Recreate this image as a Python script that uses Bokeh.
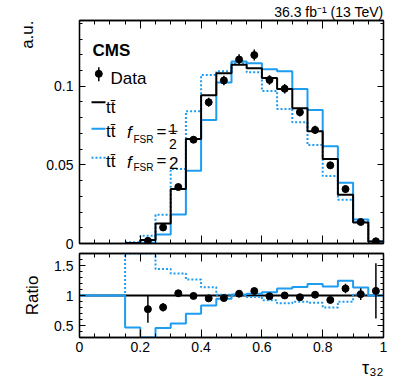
import numpy as np
from bokeh.plotting import figure
from bokeh.layouts import column
from bokeh.models import FixedTicker, LinearAxis, Label, Range1d, CustomJSTickFormatter, Title
from bokeh.embed import file_html
from bokeh.resources import INLINE

# ---------------- data ----------------
bin_edges = [0.00, 0.05, 0.10, 0.15, 0.20, 0.25, 0.30, 0.35, 0.40, 0.45, 0.50,
             0.55, 0.60, 0.65, 0.70, 0.75, 0.80, 0.85, 0.90, 0.95, 1.00]
ttbar_nominal = [0, 0, 0, 0.0003, 0.0022, 0.0127, 0.0346, 0.0665, 0.0943, 0.1083,
                 0.1136, 0.1115, 0.1053, 0.0983, 0.0860, 0.0713, 0.0537, 0.0310, 0.0134, 0.0013]
ttbar_fsr_half = [0, 0, 0, 0.00014, 0.0004, 0.0058, 0.0185, 0.0463, 0.0786, 0.1023,
                  0.1157, 0.1146, 0.1108, 0.1096, 0.0983, 0.0849, 0.0618, 0.0386, 0.0152, 0.0013]
ttbar_fsr_two = [0, 0, 0, 0.0008, 0.0049, 0.0183, 0.0473, 0.0841, 0.1072, 0.1096,
                 0.1146, 0.1089, 0.0970, 0.0856, 0.0771, 0.0626, 0.0429, 0.0278, 0.0136, 0.0013]
data_x = [0.225, 0.275, 0.325, 0.375, 0.425, 0.475, 0.525, 0.575,
          0.625, 0.675, 0.725, 0.775, 0.825, 0.875, 0.925, 0.975]
data_y = [0.0017, 0.0102, 0.0359, 0.0660, 0.0898, 0.1037, 0.1170, 0.1198,
          0.1040, 0.0984, 0.0835, 0.0722, 0.0497, 0.0346, 0.0137, 0.0014]
data_err = [0.0005, 0.0009, 0.0012, 0.0020, 0.0028, 0.0030, 0.0033, 0.0035,
            0.0030, 0.0030, 0.0028, 0.0026, 0.0023, 0.0025, 0.0013, 0.0006]

x_major = [0.0, 0.2, 0.4, 0.6, 0.8, 1.0]
x_minor = bin_edges
main_y_major = [0.0, 0.05, 0.1]
main_y_minor = [0.0, 0.01, 0.02, 0.03, 0.04, 0.05, 0.06, 0.07, 0.08, 0.09, 0.10,
                0.11, 0.12, 0.13, 0.14]
ratio_y_major = [0.5, 1.0, 1.5]
ratio_y_minor = [0.3, 0.4, 0.5, 0.6, 0.7, 0.8, 0.9, 1.0, 1.1, 1.2, 1.3, 1.4, 1.5, 1.6, 1.7]

# ---------------- style / layout ----------------
FONT = "Liberation Sans"
BLUE = "#1e9cf0"
FRAME_L, FRAME_W, FRAME_R = 79, 304, 23
MAIN_TOP, MAIN_H, MAIN_BOT = 20, 223, 8
RAT_TOP, RAT_H, RAT_BOT = 2, 84, 45
MAIN_YMAX = 0.1418
RATIO_LO, RATIO_HI = 0.3, 1.7

ABS_L = FRAME_L
ABS_MAIN_T = MAIN_TOP
ABS_MAIN_B = ABS_MAIN_T + MAIN_H


def mx(px):
    return (px - ABS_L) / FRAME_W


def my(py):
    return MAIN_YMAX * (ABS_MAIN_B - py) / MAIN_H


def steps(edges, vals, start=0):
    xs, ys = [], []
    for i in range(start, len(vals)):
        xs += [edges[i], edges[i + 1]]
        ys += [vals[i], vals[i]]
    return xs, ys


fmt = CustomJSTickFormatter(code="return String(parseFloat(tick.toFixed(3)));")
blank = CustomJSTickFormatter(code="return '';")


def style_axis(ax, major, minor, maj_len, min_len, labels):
    ax.ticker = FixedTicker(ticks=major, minor_ticks=minor)
    ax.major_tick_in = maj_len
    ax.major_tick_out = 0
    ax.minor_tick_in = min_len
    ax.minor_tick_out = 0
    ax.major_tick_line_color = "black"
    ax.minor_tick_line_color = "black"
    ax.major_tick_line_width = 1
    ax.minor_tick_line_width = 1
    ax.axis_line_color = "black"
    ax.axis_line_width = 1.3
    if labels:
        ax.formatter = fmt
        ax.major_label_text_font = FONT
        ax.major_label_text_font_size = "14px"
        ax.major_label_text_color = "black"
    else:
        ax.formatter = blank
        ax.major_label_text_font_size = "1px"
        ax.major_label_standoff = 0


def make_fig(h_top, h_frame, h_bot, yr):
    f = figure(frame_width=FRAME_W, frame_height=h_frame,
               min_border_left=FRAME_L, min_border_right=FRAME_R,
               min_border_top=h_top, min_border_bottom=h_bot,
               x_range=Range1d(0, 1), y_range=yr,
               output_backend="svg", toolbar_location=None)
    f.xgrid.grid_line_color = None
    f.ygrid.grid_line_color = None
    f.outline_line_color = "black"
    f.outline_line_width = 1.3
    f.background_fill_color = "white"
    f.border_fill_color = "white"
    return f


def title(text, size, align, standoff, offset=0):
    t = Title(text=text, align=align, text_font=FONT, text_font_size=f"{size}px",
              text_font_style="normal", text_color="black", offset=offset)
    t.standoff = standoff
    return t


def lbl(fig, x, y, text, size, align="left", baseline="alphabetic", style="normal"):
    fig.add_layout(Label(x=x, y=y, text=text, text_font=FONT,
                         text_font_size=f"{size}px", text_align=align,
                         text_baseline=baseline, text_font_style=style,
                         text_color="black"))


# ---------------- main panel ----------------
p = make_fig(MAIN_TOP, MAIN_H, MAIN_BOT, Range1d(0, MAIN_YMAX))
p.add_layout(LinearAxis(), "above")
p.add_layout(LinearAxis(), "right")
style_axis(p.below[0], x_major, x_minor, 8, 4, False)
style_axis(p.above[0], x_major, x_minor, 8, 4, False)
style_axis(p.left[0], main_y_major, main_y_minor, 6, 3, True)
p.left[0].major_label_standoff = 6
style_axis(p.right[0], main_y_major, main_y_minor, 6, 3, False)
p.add_layout(title("36.3 fb\u207b\u00b9 (13 TeV)", 14, "right", 1, 0), "above")
p.add_layout(title("a.u.", 17, "right", 14), "left")

first = next(i for i, v in enumerate(ttbar_nominal) if v > 0)
xs, ys = steps(bin_edges, ttbar_fsr_two, first)
p.line(xs, ys, line_color=BLUE, line_width=2, line_dash="2 2")
xs, ys = steps(bin_edges, ttbar_fsr_half, first)
p.line(xs, ys, line_color=BLUE, line_width=2)
xs, ys = steps(bin_edges, ttbar_nominal, first)
p.line(xs, ys, line_color="black", line_width=2)

dy = np.array(data_y)
de = np.array(data_err)
p.segment(x0=data_x, y0=dy - de, x1=data_x, y1=dy + de, line_color="black", line_width=1.5)
p.scatter(data_x, data_y, size=7, color="black")

# legend
lbl(p, mx(92), my(50), "CMS", 17, style="bold")
p.segment(x0=[mx(98.3)], y0=[my(66.7)], x1=[mx(98.3)], y1=[my(80.7)], line_color="black", line_width=1.5)
p.scatter([mx(98.3)], [my(73.3)], size=7, color="black")
lbl(p, mx(110), my(78.3), "Data", 17)

TT = "t" + "t\u0304"
p.line([mx(91), mx(105)], [my(101.7), my(101.7)], line_color="black", line_width=2)
lbl(p, mx(105.5), my(106.7), TT, 17)

p.line([mx(91), mx(105)], [my(128.3), my(128.3)], line_color=BLUE, line_width=2)
lbl(p, mx(105.5), my(131), TT, 17)
lbl(p, mx(126.5), my(132), "f", 17, style="italic")
lbl(p, mx(133), my(138.5), "FSR", 10)
lbl(p, mx(156), my(131), "=", 17, baseline="middle")
lbl(p, mx(172.5), my(128.5), "1", 14, align="center")
p.line([mx(168), mx(177)], [my(130.8), my(130.8)], line_color="black", line_width=1)
lbl(p, mx(172.5), my(143.5), "2", 14, align="center")

p.line([mx(91), mx(105)], [my(157.3), my(157.3)], line_color=BLUE, line_width=2, line_dash="2 2")
lbl(p, mx(105.5), my(161), TT, 17)
lbl(p, mx(126.5), my(162), "f", 17, style="italic")
lbl(p, mx(133), my(167), "FSR", 10)
lbl(p, mx(156), my(160), "=", 17, baseline="middle")
lbl(p, mx(168.5), my(162), "2", 17)

# ---------------- ratio panel ----------------
r = make_fig(RAT_TOP, RAT_H, RAT_BOT, Range1d(RATIO_LO, RATIO_HI))
r.add_layout(LinearAxis(), "above")
r.add_layout(LinearAxis(), "right")
style_axis(r.below[0], x_major, x_minor, 8, 4, True)
r.below[0].major_label_standoff = 4
style_axis(r.above[0], x_major, x_minor, 8, 4, False)
style_axis(r.left[0], ratio_y_major, ratio_y_minor, 6, 3, True)
r.left[0].major_label_standoff = 6
style_axis(r.right[0], ratio_y_major, ratio_y_minor, 6, 3, False)
r.add_layout(title("Ratio", 17, "center", 20), "left")
r.add_layout(title("\u03c4\u2083\u2082", 18, "right", 2), "below")

nom = np.array(ttbar_nominal, dtype=float)
safe = np.where(nom > 0, nom, 1.0)


def ratio(vals):
    v = np.array(vals, dtype=float)
    return np.clip(np.where(nom > 0, v / safe, 1.0), RATIO_LO, RATIO_HI)


xs, ys = steps(bin_edges, ratio(ttbar_nominal))
r.line(xs, ys, line_color="black", line_width=2)
xs, ys = steps(bin_edges, ratio(ttbar_fsr_two))
r.line(xs, ys, line_color=BLUE, line_width=2, line_dash="2 2")
xs, ys = steps(bin_edges, ratio(ttbar_fsr_half))
r.line(xs, ys, line_color=BLUE, line_width=2)

idx = np.searchsorted(np.array(bin_edges), np.array(data_x)) - 1
dr = dy / nom[idx]
der = de / nom[idx]
r.segment(x0=data_x, y0=dr - der, x1=data_x, y1=dr + der, line_color="black", line_width=1.5)
r.scatter(data_x, dr, size=7, color="black")

layout = column(p, r)
open("out.html", "w").write(file_html(layout, INLINE))
